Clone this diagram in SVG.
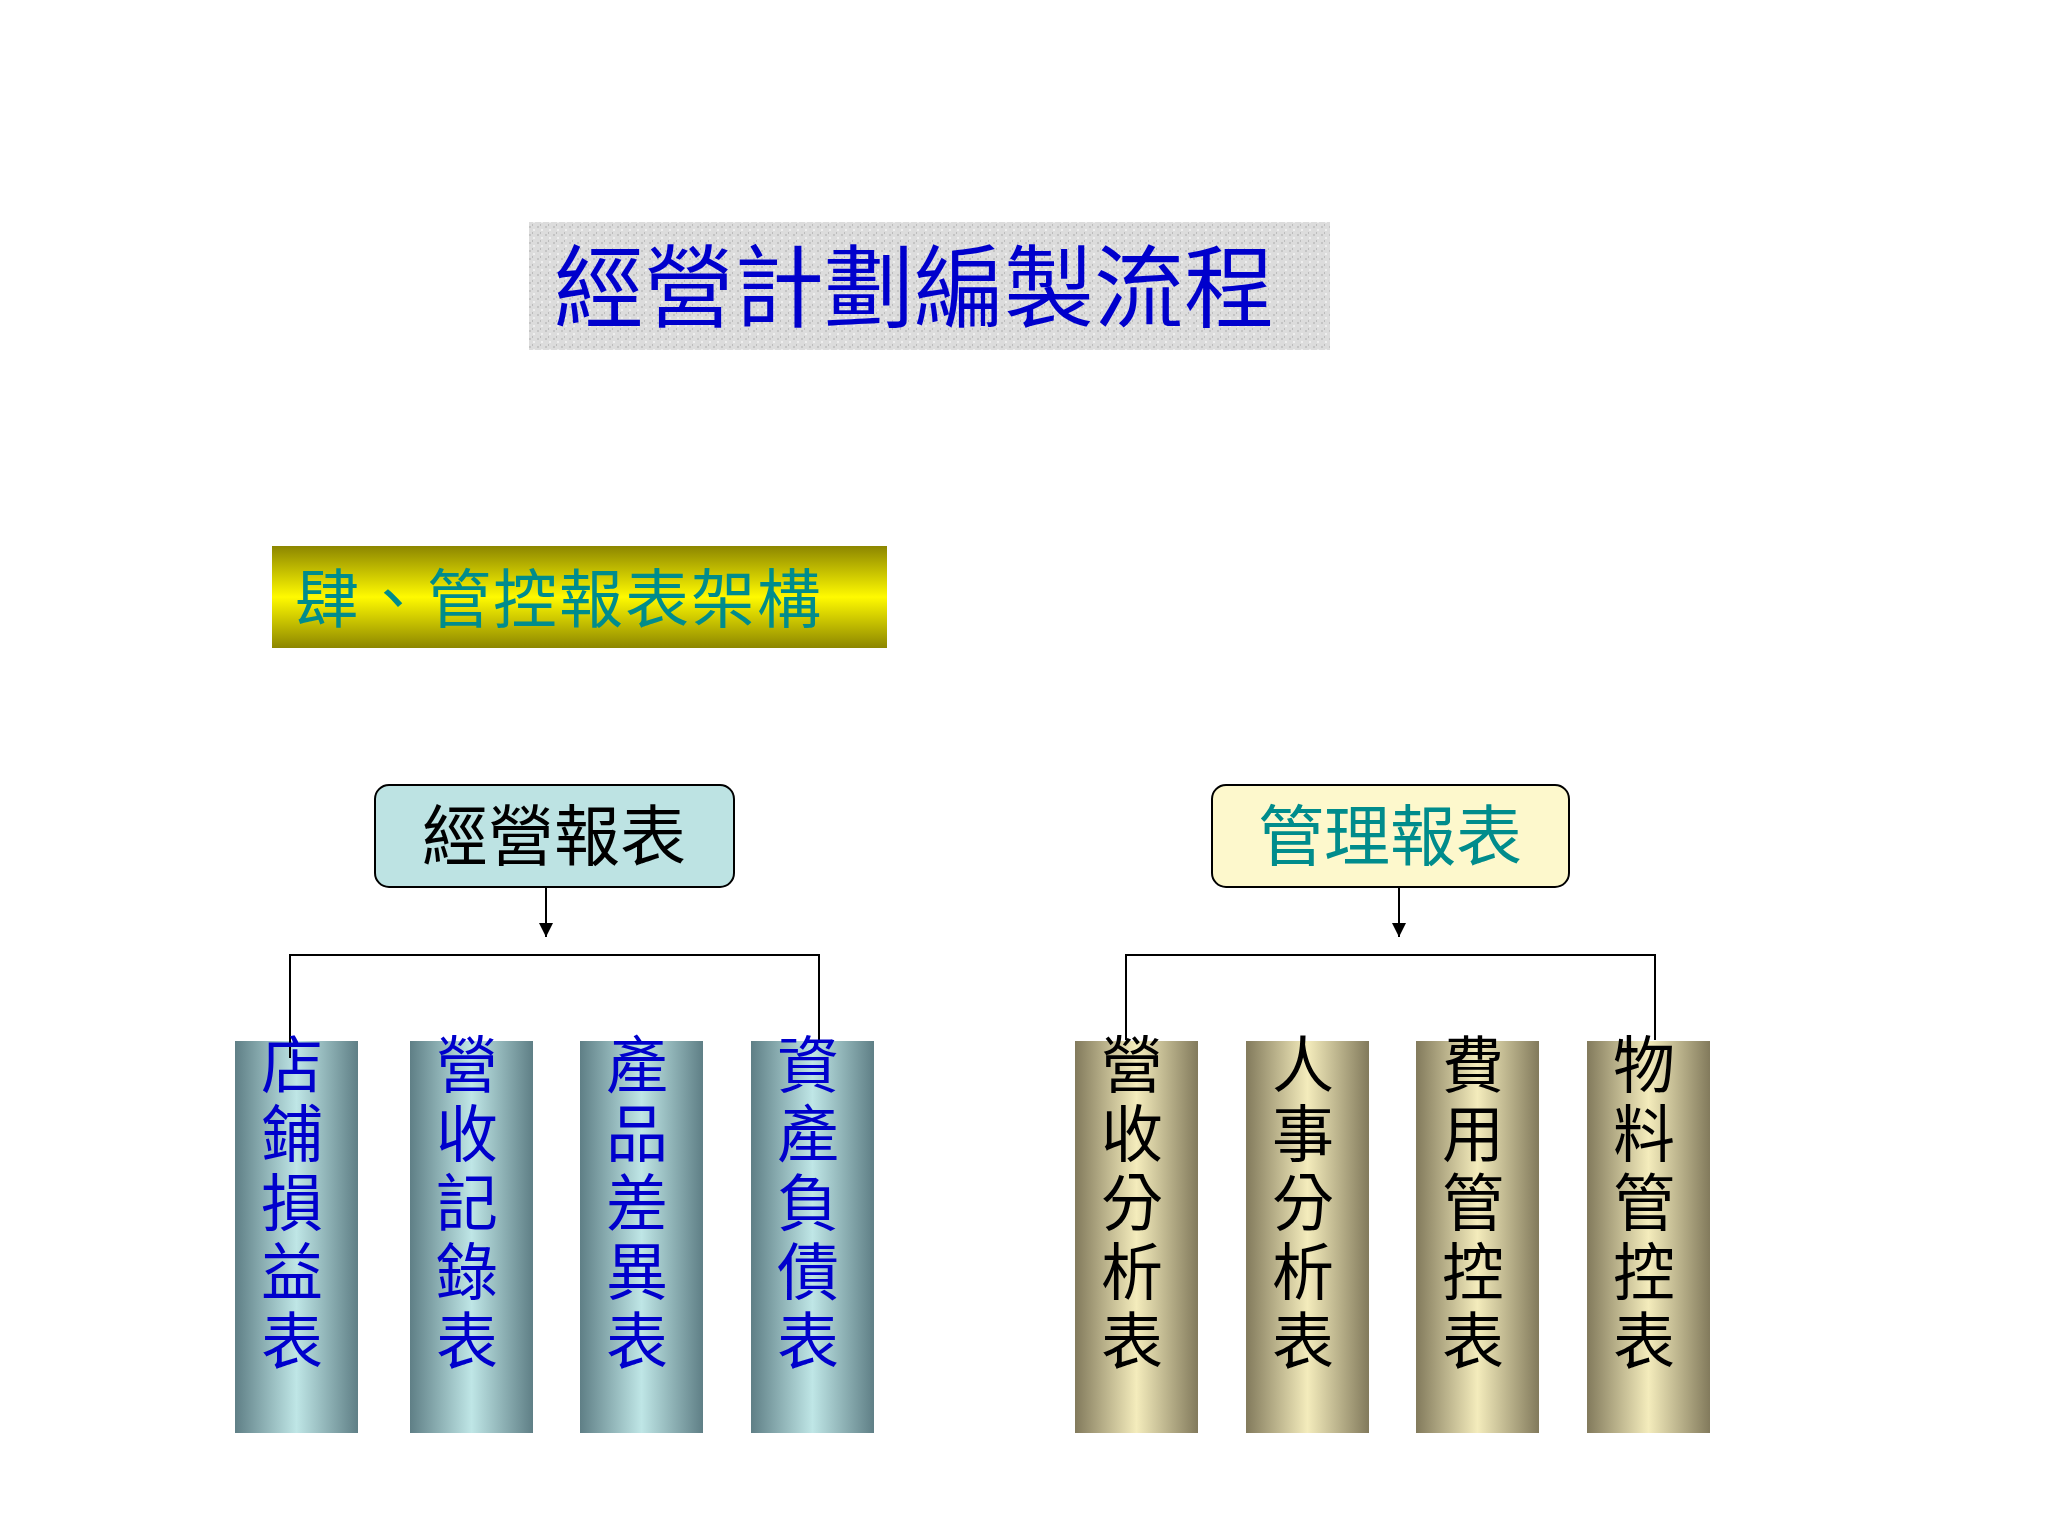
<svg xmlns="http://www.w3.org/2000/svg" width="2048" height="1536" viewBox="0 0 2048 1536">
<defs>
<linearGradient id="gb" x1="0" x2="1" y1="0" y2="0"><stop offset="0" stop-color="#5f7f86"/><stop offset="0.5" stop-color="#bfe6e6"/><stop offset="1" stop-color="#5f7f86"/></linearGradient>
<linearGradient id="gy" x1="0" x2="1" y1="0" y2="0"><stop offset="0" stop-color="#827a5c"/><stop offset="0.5" stop-color="#f4ecbc"/><stop offset="1" stop-color="#827a5c"/></linearGradient>
<linearGradient id="gyel" x1="0" x2="0" y1="0" y2="1"><stop offset="0" stop-color="#8c8600"/><stop offset="0.5" stop-color="#fffa00"/><stop offset="1" stop-color="#8c8600"/></linearGradient>
<pattern id="noise" width="8" height="8" patternUnits="userSpaceOnUse"><rect width="8" height="8" fill="#dcdcdc"/><rect x="1" y="2" width="2" height="2" fill="#c4c4c4"/><rect x="5" y="5" width="2" height="2" fill="#eeeeee"/><rect x="4" y="0" width="1" height="2" fill="#bdbdbd"/></pattern>
<marker id="ar" markerWidth="14" markerHeight="14" refX="14" refY="7" orient="auto" markerUnits="userSpaceOnUse"><path d="M0,0 L14,7 L0,14 Z" fill="#000"/></marker>
</defs>
<style>
.cj{font-family:"Noto Sans CJK TC","Noto Sans CJK SC",sans-serif}
.vt{font-size:62px;text-anchor:middle}
.ln{stroke:#000;stroke-width:2;fill:none}
</style>
<rect width="2048" height="1536" fill="#fff"/>
<g id="title"><rect x="529" y="222" width="801" height="128" fill="url(#noise)"/>
<text x="914" y="320" class="cj" font-size="90" fill="#0000cc" text-anchor="middle">經營計劃編製流程</text></g>
<g id="section"><rect x="272" y="546" width="615" height="102" style="fill:url(#gyel)"/>
<text x="295" y="622" class="cj" font-size="64" fill="#008c8c" letter-spacing="2">肆、管控報表架構</text></g>
<g id="box1"><rect x="375" y="785" width="359" height="102" rx="14" fill="#bde3e3" stroke="#000" stroke-width="2"/>
<text x="554" y="860" class="cj" font-size="66" fill="#000" text-anchor="middle">經營報表</text></g>
<g id="box2"><rect x="1212" y="785" width="357" height="102" rx="14" fill="#fdf8cc" stroke="#000" stroke-width="2"/>
<text x="1390" y="860" class="cj" font-size="66" fill="#008c8c" text-anchor="middle">管理報表</text></g>
<g id="c1"><rect x="235" y="1041" width="123" height="392" fill="url(#gb)"/></g>
<g id="c2"><rect x="410" y="1041" width="123" height="392" fill="url(#gb)"/></g>
<g id="c3"><rect x="580" y="1041" width="123" height="392" fill="url(#gb)"/></g>
<g id="c4"><rect x="751" y="1041" width="123" height="392" fill="url(#gb)"/></g>
<g id="c5"><rect x="1075" y="1041" width="123" height="392" fill="url(#gy)"/></g>
<g id="c6"><rect x="1246" y="1041" width="123" height="392" fill="url(#gy)"/></g>
<g id="c7"><rect x="1416" y="1041" width="123" height="392" fill="url(#gy)"/></g>
<g id="c8"><rect x="1587" y="1041" width="123" height="392" fill="url(#gy)"/></g>
<g id="connectors">
<line class="ln" x1="546" y1="887" x2="546" y2="937" marker-end="url(#ar)"/>
<polyline class="ln" points="290,1058 290,955 819,955 819,1040"/>
<line class="ln" x1="1399" y1="887" x2="1399" y2="937" marker-end="url(#ar)"/>
<polyline class="ln" points="1126,1040 1126,955 1655,955 1655,1040"/>
</g>
<g id="labels" class="cj vt">
<g fill="#0000cc">
<text><tspan x="292" y="1088">店</tspan><tspan x="292" y="1157">鋪</tspan><tspan x="292" y="1226">損</tspan><tspan x="292" y="1295">益</tspan><tspan x="292" y="1364">表</tspan></text>
<text><tspan x="467" y="1088">營</tspan><tspan x="467" y="1157">收</tspan><tspan x="467" y="1226">記</tspan><tspan x="467" y="1295">錄</tspan><tspan x="467" y="1364">表</tspan></text>
<text><tspan x="637" y="1088">產</tspan><tspan x="637" y="1157">品</tspan><tspan x="637" y="1226">差</tspan><tspan x="637" y="1295">異</tspan><tspan x="637" y="1364">表</tspan></text>
<text><tspan x="808" y="1088">資</tspan><tspan x="808" y="1157">產</tspan><tspan x="808" y="1226">負</tspan><tspan x="808" y="1295">債</tspan><tspan x="808" y="1364">表</tspan></text>
</g>
<g fill="#000">
<text><tspan x="1132" y="1088">營</tspan><tspan x="1132" y="1157">收</tspan><tspan x="1132" y="1226">分</tspan><tspan x="1132" y="1295">析</tspan><tspan x="1132" y="1364">表</tspan></text>
<text><tspan x="1303" y="1088">人</tspan><tspan x="1303" y="1157">事</tspan><tspan x="1303" y="1226">分</tspan><tspan x="1303" y="1295">析</tspan><tspan x="1303" y="1364">表</tspan></text>
<text><tspan x="1473" y="1088">費</tspan><tspan x="1473" y="1157">用</tspan><tspan x="1473" y="1226">管</tspan><tspan x="1473" y="1295">控</tspan><tspan x="1473" y="1364">表</tspan></text>
<text><tspan x="1644" y="1088">物</tspan><tspan x="1644" y="1157">料</tspan><tspan x="1644" y="1226">管</tspan><tspan x="1644" y="1295">控</tspan><tspan x="1644" y="1364">表</tspan></text>
</g>
</g>
</svg>
